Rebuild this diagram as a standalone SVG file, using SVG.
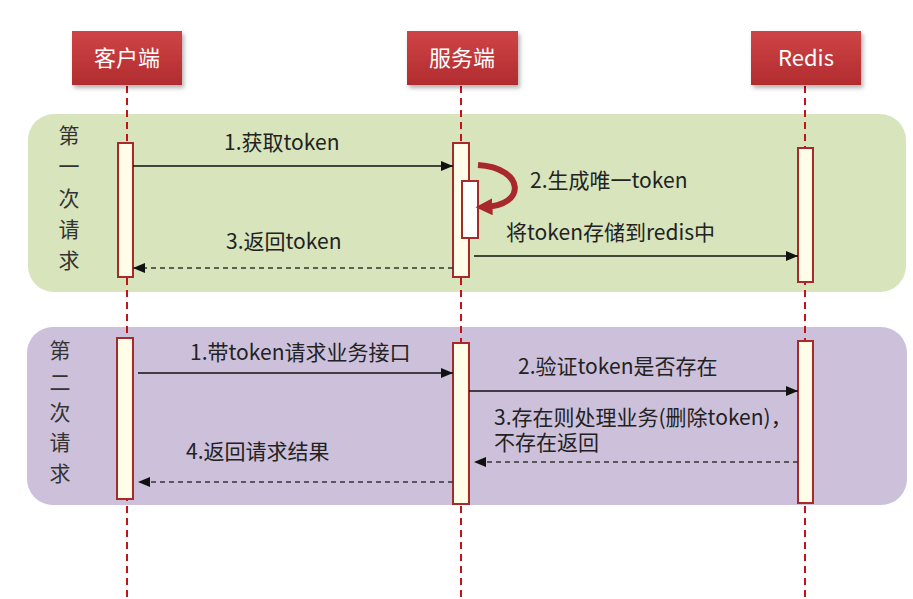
<svg xmlns="http://www.w3.org/2000/svg" width="913" height="599" viewBox="0 0 913 599">
<defs>
<linearGradient id="hdr" x1="0" y1="0" x2="0" y2="1">
<stop offset="0" stop-color="#cf4446"/>
<stop offset="1" stop-color="#b12c2f"/>
</linearGradient>
<filter id="sh" x="-10%" y="-10%" width="130%" height="140%">
<feDropShadow dx="2" dy="3" stdDeviation="2" flood-color="#000" flood-opacity="0.3"/>
</filter>
<marker id="ah" viewBox="0 0 12 10" refX="12" refY="5" markerWidth="12" markerHeight="10" markerUnits="userSpaceOnUse" orient="auto">
<path d="M0,0 L12,5 L0,10 Z" fill="#111"/>
</marker>
<marker id="rh" viewBox="0 0 10 10" refX="5" refY="5" markerWidth="17" markerHeight="17" markerUnits="userSpaceOnUse" orient="auto">
<path d="M0,0 L10,5 L0,10 Z" fill="#a8282b"/>
</marker>
<style>
.t{font-family:"Microsoft YaHei","Noto Sans CJK SC","Noto Sans",sans-serif;font-size:21px;fill:#222}
.h{font-family:"Microsoft YaHei","Noto Sans CJK SC","Noto Sans",sans-serif;font-size:22px;fill:#fff;text-anchor:middle}
.v{font-family:"Microsoft YaHei","Noto Sans CJK SC","Noto Sans",sans-serif;font-size:21px;fill:#333;text-anchor:middle}
.life{stroke:#c0141c;stroke-width:2;stroke-dasharray:7 5;fill:none}
.bar{fill:#fffde8;stroke:#a52a2a;stroke-width:2}
.msg{stroke:#111;stroke-width:1.3;fill:none;marker-end:url(#ah)}
.ret{stroke:#333;stroke-width:1.3;fill:none;stroke-dasharray:5 4;marker-end:url(#ah)}
</style>
</defs>
<rect width="913" height="599" fill="#fff"/>

<g id="panel1">
<rect x="28" y="114" width="878" height="178" rx="26" fill="#d8e4bc"/>
<text class="v" x="69" y="143">第</text>
<text class="v" x="69" y="174">一</text>
<text class="v" x="69" y="206">次</text>
<text class="v" x="69" y="237">请</text>
<text class="v" x="69" y="268">求</text>
</g>
<g id="panel2">
<rect x="27" y="327" width="880" height="178" rx="26" fill="#ccc0da"/>
<text class="v" x="60" y="358">第</text>
<text class="v" x="60" y="390">二</text>
<text class="v" x="60" y="420">次</text>
<text class="v" x="60" y="450">请</text>
<text class="v" x="60" y="481">求</text>
</g>

<g id="lifelines">
<line class="life" x1="127" y1="86" x2="127" y2="599"/>
<line class="life" x1="461" y1="86" x2="461" y2="599"/>
<line class="life" x1="805" y1="86" x2="805" y2="599"/>
</g>

<g id="client">
<rect x="72" y="31" width="110" height="54" fill="url(#hdr)" filter="url(#sh)"/>
<text class="h" x="127" y="66">客户端</text>
</g>
<g id="server">
<rect x="407" y="31" width="111" height="54" fill="url(#hdr)" filter="url(#sh)"/>
<text class="h" x="462" y="66">服务端</text>
</g>
<g id="redis">
<rect x="751" y="31" width="110" height="54" fill="url(#hdr)" filter="url(#sh)"/>
<text class="h" x="806" y="66">Redis</text>
</g>

<g id="activations">
<rect class="bar" x="118" y="143" width="15" height="134"/>
<rect class="bar" x="453" y="143" width="16" height="134"/>
<rect x="462" y="181" width="16" height="57" fill="#fff" stroke="#a52a2a" stroke-width="2"/>
<rect class="bar" x="798" y="148" width="15" height="134"/>
<rect class="bar" x="117" y="338" width="16" height="161"/>
<rect class="bar" x="453" y="343" width="16" height="161"/>
<rect class="bar" x="798" y="341" width="15" height="162"/>
</g>

<g id="connectors">
<line class="msg" x1="133" y1="166" x2="453" y2="166"/>
<path d="M478,165 C525,168 527,206 484,207" stroke="#a8282b" stroke-width="6" fill="none" marker-end="url(#rh)"/>
<line class="msg" x1="474" y1="256" x2="798" y2="256"/>
<line class="ret" x1="453" y1="268" x2="133" y2="268"/>
<line class="msg" x1="138" y1="373" x2="453" y2="373"/>
<line class="msg" x1="469" y1="391" x2="798" y2="391"/>
<line class="ret" x1="798" y1="462" x2="474" y2="462"/>
<line class="ret" x1="453" y1="482" x2="138" y2="482"/>
</g>

<g id="labels">
<text class="t" x="224" y="150">1.获取token</text>
<text class="t" x="530" y="188">2.生成唯一token</text>
<text class="t" x="506" y="240">将token存储到redis中</text>
<text class="t" x="226" y="249">3.返回token</text>
<text class="t" x="190" y="360">1.带token请求业务接口</text>
<text class="t" x="518" y="374">2.验证token是否存在</text>
<text class="t" x="494" y="425">3.存在则处理业务(删除token)，</text>
<text class="t" x="494" y="450">不存在返回</text>
<text class="t" x="186" y="459">4.返回请求结果</text>
</g>
</svg>
